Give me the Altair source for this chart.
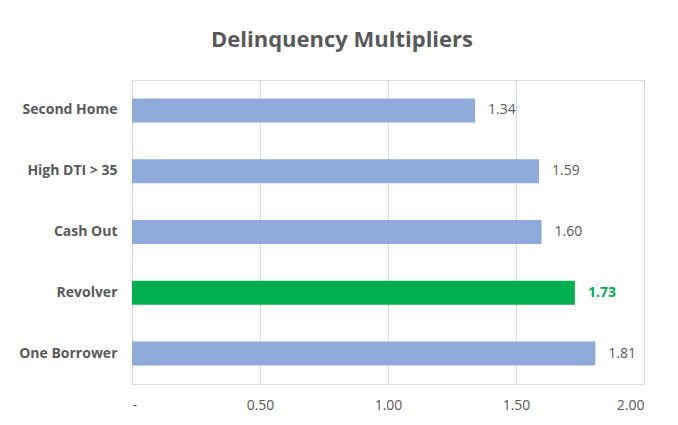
import altair as alt
import pandas as pd

categories = ["Second Home", "High DTI > 35", "Cash Out", "Revolver", "One Borrower"]
values = [1.34, 1.59, 1.60, 1.73, 1.81]
highlight = ["no", "no", "no", "yes", "no"]
x_ticks = [0, 0.5, 1.0, 1.5, 2.0]

df = pd.DataFrame({"cat": categories, "val": values, "hl": highlight})

W, H = 512, 304
FONT = "Open Sans"
GRAY = "#595959"
BLUE = "#8eaadb"
GREEN = "#00b050"

y_enc = alt.Y("cat:N", sort=categories, title=None,
              scale=alt.Scale(paddingInner=0.6, paddingOuter=0.3),
              axis=alt.Axis(domain=False, ticks=False, grid=False, labelFont=FONT, labelFontSize=14,
                            labelFontWeight="bold", labelColor=GRAY, labelPadding=15))
x_enc = alt.X("val:Q", title=None, scale=alt.Scale(domain=[0, 2], nice=False),
              axis=alt.Axis(values=x_ticks, format=".2f",
                            labelExpr="datum.value == 0 ? '-' : datum.label",
                            domain=False, ticks=False, grid=True, gridColor="#d9d9d9",
                            labelFont=FONT, labelFontSize=14, labelColor=GRAY,
                            labelPadding=14))

color = alt.Color("hl:N", scale=alt.Scale(domain=["no", "yes"], range=[BLUE, GREEN]),
                  legend=None)

bars = alt.Chart(df).mark_bar(size=24).encode(y=y_enc, x=x_enc, color=color)

labels_plain = alt.Chart(df).transform_filter(alt.datum.hl == "no").mark_text(
    align="left", baseline="middle", dx=13, font=FONT, fontSize=14, color=GRAY
).encode(
    y=alt.Y("cat:N", sort=categories),
    x=alt.X("val:Q"),
    text=alt.Text("val:Q", format=".2f"),
)

labels_hl = alt.Chart(df).transform_filter(alt.datum.hl == "yes").mark_text(
    align="left", baseline="middle", dx=13, font=FONT, fontSize=14, color=GREEN,
    fontWeight="bold"
).encode(
    y=alt.Y("cat:N", sort=categories),
    x=alt.X("val:Q"),
    text=alt.Text("val:Q", format=".2f"),
)

chart = alt.layer(bars, labels_plain, labels_hl).properties(
    width=W, height=H,
    autosize="none",
    padding={"left": 124, "top": 72, "right": 24, "bottom": 32},
    title=alt.TitleParams("Delinquency Multipliers", font=FONT, fontSize=22, fontWeight="bold",
                          color=GRAY, anchor="middle", dx=-46, offset=28),
).configure_view(strokeWidth=0, stroke="transparent").configure(background="white")

chart.save("out.html", embed_options={"renderer": "svg", "actions": False})
